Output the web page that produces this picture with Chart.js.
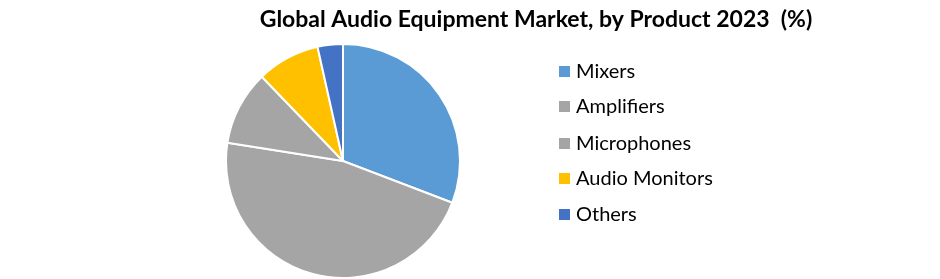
<!DOCTYPE html>
<html><head><meta charset="utf-8">
<script src="https://cdn.jsdelivr.net/npm/chart.js@4/dist/chart.umd.min.js"></script>
<style>html,body{margin:0;padding:0;background:#fff;}#wrap{width:940px;height:279px;}</style>
</head><body><div id="wrap"><canvas id="c" width="940" height="279"></canvas></div>
<script>
const titleText = "Global Audio Equipment Market, by Product 2023  (%)";
const categories = ["Mixers", "Amplifiers", "Microphones", "Audio Monitors", "Others"];
const shares = [30.8, 46.7, 10.3, 8.7, 3.5];
const colors = ["#5B9BD5", "#A5A5A5", "#A5A5A5", "#FFC000", "#4472C4"];

const overlay = {
  id: 'overlay',
  afterDraw(chart) {
    const ctx = chart.ctx;
    ctx.save();
    ctx.fillStyle = '#000';
    ctx.font = 'bold 23px Lato, "Open Sans", sans-serif';
    ctx.textAlign = 'center';
    ctx.textBaseline = 'middle';
    ctx.fillText(titleText, 536, 20);
    ctx.font = '20px Lato, "Open Sans", sans-serif';
    ctx.textAlign = 'left';
    const ys = [71, 106, 143, 178, 214];
    chart.data.labels.forEach((lab, i) => {
      ctx.fillStyle = chart.data.datasets[0].backgroundColor[i];
      ctx.fillRect(559, ys[i] - 5, 11, 11);
      ctx.fillStyle = '#000';
      ctx.fillText(lab, 576, ys[i] + 1);
    });
    ctx.restore();
  }
};

new Chart(document.getElementById('c'), {
  type: 'pie',
  data: {
    labels: categories,
    datasets: [{ data: shares, backgroundColor: colors, borderColor: '#fff', borderWidth: 2 }]
  },
  options: {
    responsive: false,
    animation: false,
    layout: { padding: { top: 43, bottom: 0, left: 225, right: 479 } },
    plugins: { legend: { display: false }, title: { display: false }, tooltip: { enabled: false } }
  },
  plugins: [overlay]
});
</script></body></html>
